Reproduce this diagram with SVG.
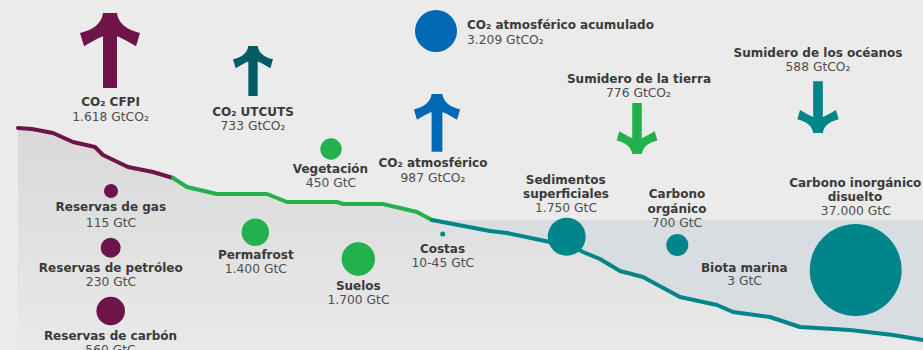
<svg xmlns="http://www.w3.org/2000/svg" width="923" height="350" viewBox="0 0 923 350">
<defs>
<linearGradient id="land" x1="0" y1="0" x2="0" y2="1">
<stop offset="0" stop-color="#d9d9d9"/>
<stop offset="1" stop-color="#e9e9e9"/>
</linearGradient>
<path id="arrow" d="M-7,0 H7 Q9,15 30,20 L26,33.3 Q12,25 7,23.3 V75 H-7 V23.3 Q-12,25 -26,33.3 L-30,20 Q-9,15 -7,0 Z"/>
</defs>
<style>
.t{font-family:"DejaVu Sans",sans-serif;font-weight:bold;font-size:12px;fill:#3a3a3a;text-anchor:middle}
.v{font-family:"DejaVu Sans",sans-serif;font-size:12.3px;fill:#4d4d4d;text-anchor:middle}
.l{text-anchor:start}
.line{fill:none;stroke-width:4;stroke-linejoin:round;stroke-linecap:round}
.purple{fill:#6d1548}
.green{fill:#22b14c}
.teal{fill:#00868a}
.dteal{fill:#005b66}
.blue{fill:#0068b4}
</style>
<rect width="923" height="350" fill="#ebebeb"/>
<g id="background">
<path d="M18,128 L32,129 L53,133 L73,142 L95,147 L103,155 L128,167 L153,172 L173,178 L187,187 L217,194 L267,194 L287,202 L337,202 L343,204 L383,204 L400,208 L417,212 L432,220 L490,231 L507,233 L550,242 L567,243 L583,252 L600,259 L620,271 L643,277 L680,297 L717,305 L733,312 L770,317 L800,327 L850,330 L893,335 L923,340 L923,350 L18,350 Z" fill="url(#land)"/>
<path d="M432,220 L923,220 L923,340 L893,335 L850,330 L800,327 L770,317 L733,312 L717,305 L680,297 L643,277 L620,271 L600,259 L583,252 L567,243 L550,242 L507,233 L490,231 Z" fill="#d8dde1"/>
</g>
<g id="connectors">
<path class="line" stroke="#6d1548" d="M18,128 L32,129 L53,133 L73,142 L95,147 L103,155 L128,167 L153,172 L173,178"/>
<path class="line" stroke="#22b14c" d="M173,178 L187,187 L217,194 L267,194 L287,202 L337,202 L343,204 L383,204 L400,208 L417,212 L432,220"/>
<path class="line" stroke="#00868a" d="M432,220 L490,231 L507,233 L550,242 L567,243 L583,252 L600,259 L620,271 L643,277 L680,297 L717,305 L733,312 L770,317 L800,327 L850,330 L893,335 L923,340"/>
</g>
<g id="co2-cfpi">
<use href="#arrow" class="purple" transform="translate(110,13)"/>
<text class="t" x="110.5" y="106">CO₂ CFPI</text>
<text class="v" x="110.5" y="121">1.618 GtCO₂</text>
</g>
<g id="co2-utcuts">
<use href="#arrow" class="dteal" transform="translate(253,46) scale(0.667)"/>
<text class="t" x="253" y="116">CO₂ UTCUTS</text>
<text class="v" x="253" y="130">733 GtCO₂</text>
</g>
<g id="co2-atmosferico">
<use href="#arrow" class="blue" transform="translate(437,94) scale(0.77)"/>
<text class="t" x="433" y="166.5">CO₂ atmosférico</text>
<text class="v" x="433" y="181.5">987 GtCO₂</text>
</g>
<g id="co2-acumulado">
<circle class="blue" cx="436" cy="31" r="21"/>
<text class="t l" x="467" y="29.3">CO₂ atmosférico acumulado</text>
<text class="v l" x="467" y="44">3.209 GtCO₂</text>
</g>
<g id="sumidero-tierra">
<use href="#arrow" class="green" transform="translate(637,154) rotate(180) scale(0.68)"/>
<text class="t" x="639" y="83.3">Sumidero de la tierra</text>
<text class="v" x="638.5" y="97.3">776 GtCO₂</text>
</g>
<g id="sumidero-oceanos">
<use href="#arrow" class="teal" transform="translate(818,133) rotate(180) scale(0.69)"/>
<text class="t" x="818" y="56.5">Sumidero de los océanos</text>
<text class="v" x="818" y="71">588 GtCO₂</text>
</g>
<g id="reservas-gas">
<circle class="purple" cx="111" cy="191" r="7"/>
<text class="t" x="110.8" y="211.3">Reservas de gas</text>
<text class="v" x="111" y="226.5">115 GtC</text>
</g>
<g id="reservas-petroleo">
<circle class="purple" cx="110.7" cy="247.7" r="10"/>
<text class="t" x="110.8" y="271.5">Reservas de petróleo</text>
<text class="v" x="111" y="285.7">230 GtC</text>
</g>
<g id="reservas-carbon">
<circle class="purple" cx="110.7" cy="311" r="14.3"/>
<text class="t" x="110.5" y="340">Reservas de carbón</text>
<text class="v" x="110.5" y="354">560 GtC</text>
</g>
<g id="permafrost">
<circle class="green" cx="255.3" cy="232.3" r="13.7"/>
<text class="t" x="255.8" y="259.3">Permafrost</text>
<text class="v" x="255.8" y="273.3">1.400 GtC</text>
</g>
<g id="vegetacion">
<circle class="green" cx="331" cy="149" r="10.7"/>
<text class="t" x="330.5" y="172.5">Vegetación</text>
<text class="v" x="331" y="187">450 GtC</text>
</g>
<g id="suelos">
<circle class="green" cx="358.3" cy="259" r="16.7"/>
<text class="t" x="358.3" y="290">Suelos</text>
<text class="v" x="358.5" y="304">1.700 GtC</text>
</g>
<g id="costas">
<circle class="teal" cx="442.7" cy="234" r="2.5"/>
<text class="t" x="442.5" y="253.3">Costas</text>
<text class="v" x="442.8" y="267.3">10-45 GtC</text>
</g>
<g id="sedimentos">
<circle class="teal" cx="566.7" cy="236.7" r="19"/>
<text class="t" x="565.7" y="184">Sedimentos</text>
<text class="t" x="566" y="198.3">superficiales</text>
<text class="v" x="566" y="211.7">1.750 GtC</text>
</g>
<g id="carbono-organico">
<circle class="teal" cx="677.3" cy="245" r="11"/>
<text class="t" x="677" y="198.3">Carbono</text>
<text class="t" x="677" y="212.5">orgánico</text>
<text class="v" x="677" y="226.7">700 GtC</text>
</g>
<g id="biota-marina">
<text class="t" x="744.3" y="271.7">Biota marina</text>
<text class="v" x="744.5" y="285">3 GtC</text>
</g>
<g id="carbono-inorganico">
<circle class="teal" cx="855.7" cy="270" r="46"/>
<text class="t" x="855.3" y="187">Carbono inorgánico</text>
<text class="t" x="855" y="200.7">disuelto</text>
<text class="v" x="855.8" y="215">37.000 GtC</text>
</g>
</svg>
